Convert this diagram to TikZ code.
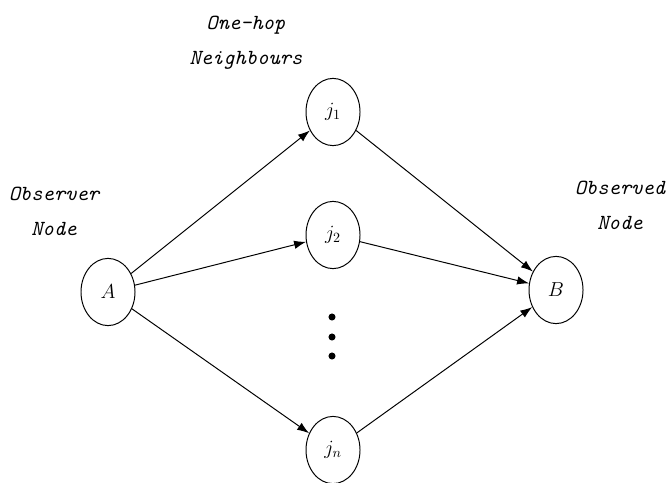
\documentclass[tikz,border=0pt]{standalone}
\usepackage{amsmath}
\usepackage{tikz}
\usetikzlibrary{arrows.meta, positioning, shapes.geometric}

\begin{document}
\begin{tikzpicture}[x=0.025cm, y=-0.025cm, line width=0.7pt,
    nd/.style={ellipse, draw, minimum width=1.35cm, minimum height=1.68cm, inner sep=0pt, font=\fontsize{14}{16}\selectfont},
    lbl/.style={align=center, font=\fontsize{15.3}{25}\selectfont\ttfamily\itshape},
    link/.style={-{Latex[length=8.5pt, width=6pt]}}]
    \useasboundingbox (0,0) rectangle (668,482);

    \node[nd] (A) at (108,292) {$A$};
    \node[nd] (j1) at (333,112) {$j_1$};
    \node[nd] (j2) at (333,235) {$j_2$};
    \node[nd] (jn) at (333,450) {$j_n$};
    \node[nd] (B) at (556,290) {$B$};
    \foreach \i/\y in {1/317, 2/337, 3/356}
        \node[circle, fill, inner sep=0pt, minimum size=5pt] (dot\i) at (332,\y) {};

    \node[lbl] (hop) at (246,43) {One-hop\\Neighbours};
    \node[lbl] (obsr) at (54,211) {Observer\\Node};
    \node[lbl] (obsd) at (620,205) {Observed\\Node};

    \draw[link] (A) -- (j1);
    \draw[link] (A) -- (j2);
    \draw[link] (A) -- (jn);
    \draw[link] (j1) -- (B);
    \draw[link] (j2) -- (B);
    \draw[link] (jn) -- (B);
\end{tikzpicture}
\end{document}
